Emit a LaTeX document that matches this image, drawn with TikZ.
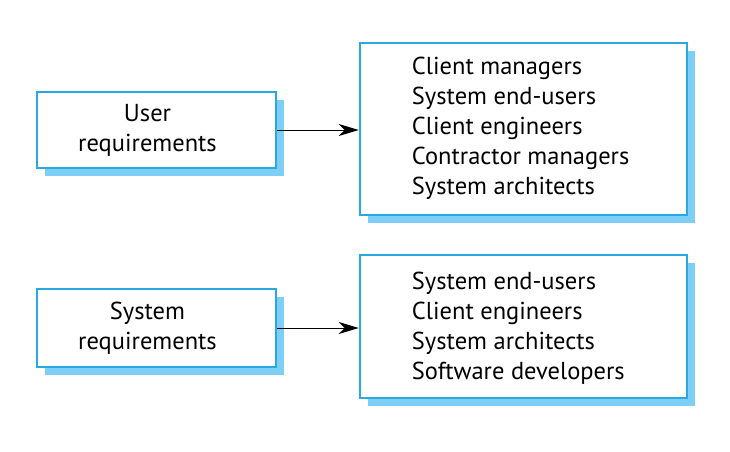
\documentclass[tikz,border=0pt]{standalone}
\usepackage{fontspec}
\setmainfont{PT Sans}
\usetikzlibrary{positioning,shadows,arrows.meta}
\definecolor{boxblue}{RGB}{41,168,226}
\definecolor{shadeblue}{RGB}{125,207,245}

\tikzset{
    reqbox/.style={draw=boxblue, line width=2.5pt, fill=white,
        drop shadow={shadow xshift=8pt, shadow yshift=-8pt, fill=shadeblue, opacity=1}},
    boxtext/.style={inner sep=0pt, align=center, font=\fontsize{24.5}{30}\selectfont},
    listtext/.style={inner sep=0pt, align=left, font=\fontsize{24.5}{30}\selectfont},
    flow/.style={-{Stealth[length=20pt, width=12pt, inset=6pt]}, line width=1pt}
}

\begin{document}
\begin{tikzpicture}[x=1pt, y=-1pt]
    \useasboundingbox (0,0) rectangle (730,451);
    % user requirements
    \node[reqbox, minimum width=239pt, minimum height=76pt] (ureq) at (156.5,130) {};
    \node[boxtext, xshift=-9pt] (utext) at (ureq.center) {User\\requirements};
    \node[reqbox, minimum width=327pt, minimum height=172pt] (ubox) at (523.5,129) {};
    \node[listtext, right=53pt of ubox.west, yshift=1pt] (ulist) {Client managers\\System end-users\\Client engineers\\Contractor managers\\System architects};
    % system requirements
    \node[reqbox, minimum width=239pt, minimum height=78pt] (sreq) at (156.5,328) {};
    \node[boxtext, xshift=-9pt] (stext) at (sreq.center) {System\\requirements};
    \node[reqbox, minimum width=327pt, minimum height=143pt] (sbox) at (523.5,326.5) {};
    \node[listtext, right=53pt of sbox.west, yshift=-2pt] (slist) {System end-users\\Client engineers\\System architects\\Software developers};
    % arrows
    \draw[flow] (ureq.east) -- (ubox.west |- ureq.east);
    \draw[flow] (sreq.east) -- (sbox.west |- sreq.east);
\end{tikzpicture}
\end{document}
